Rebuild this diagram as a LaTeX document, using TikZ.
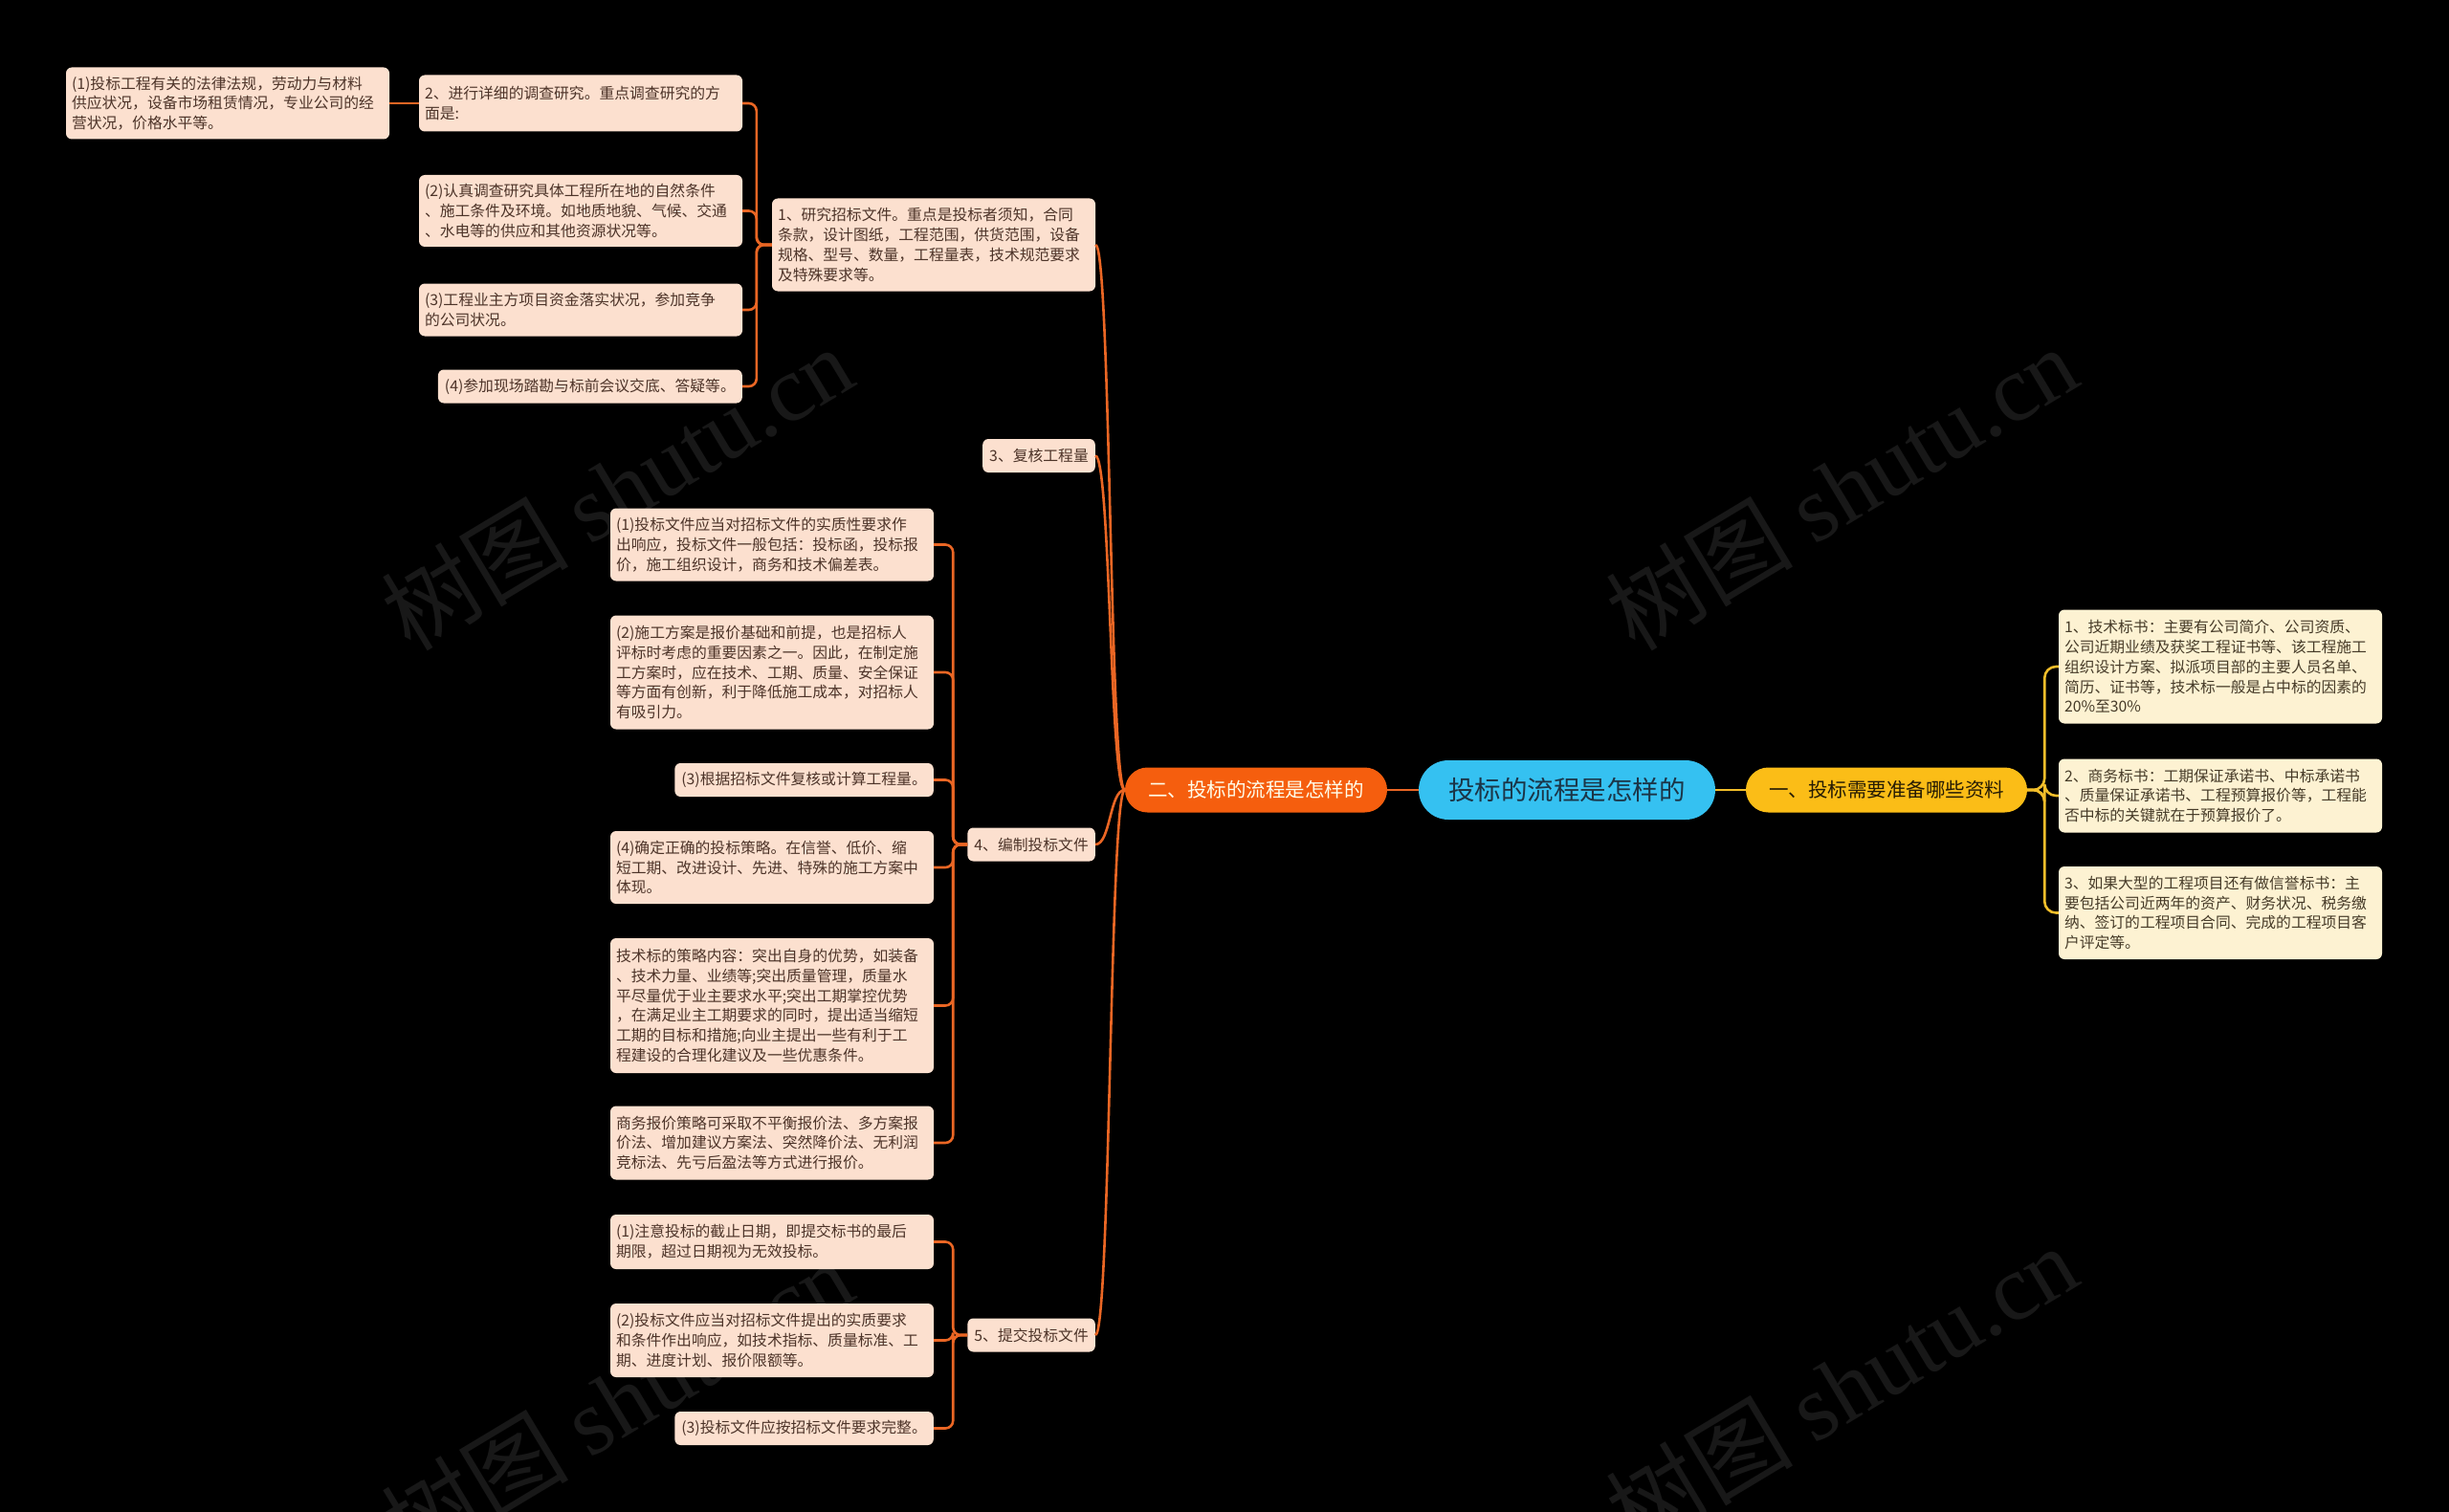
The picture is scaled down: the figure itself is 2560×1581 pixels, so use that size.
\documentclass[tikz,border=0pt]{standalone}
\usepackage{fontspec}
\setmainfont{Noto Sans CJK SC}
\newfontfamily\wmlatin{Liberation Serif}
\usetikzlibrary{calc}
\definecolor{leaffill}{HTML}{FCE0CF}
\definecolor{leaftext}{HTML}{4D3429}
\definecolor{rfill}{HTML}{FDF2D2}
\definecolor{rtext}{HTML}{463B28}
\definecolor{lineor}{HTML}{EA6624}
\definecolor{lineye}{HTML}{F2BE2A}
\definecolor{rootfill}{HTML}{35C1F1}
\definecolor{roottext}{HTML}{1B3547}
\definecolor{orfill}{HTML}{F55E0E}
\definecolor{yefill}{HTML}{FBBD17}
\definecolor{wmark}{HTML}{181818}
\tikzset{
  leaf/.style={fill=leaffill, text=leaftext, rounded corners=6pt, inner xsep=6pt, inner ysep=0pt,
    align=left, font=\fontsize{15.8}{20.8}\selectfont},
  sleaf/.style={leaf, inner xsep=7pt, minimum height=35pt, anchor=east},
  rleaf/.style={leaf, fill=rfill, text=rtext, text width=326pt},
  conn/.style={draw=lineor, line width=2.6pt},
  connY/.style={draw=lineye, line width=2.6pt},
  wm/.style={text=wmark, font=\fontsize{98}{100}\selectfont, rotate=31, inner sep=0pt}
}
\begin{document}
\begin{tikzpicture}[x=1pt,y=-1pt]
\fill[black] (0,0) rectangle (2560,1581);
\useasboundingbox (0,0) rectangle (2560,1581);

% watermarks
\node[wm] (wm1) at (645,510) {树图 {\wmlatin shutu.cn}};
\node[wm] (wm2) at (1925,510) {树图 {\wmlatin shutu.cn}};
\node[wm] (wm3) at (645,1465) {树图 {\wmlatin shutu.cn}};
\node[wm] (wm4) at (1925,1450) {树图 {\wmlatin shutu.cn}};

% root and main branches
\node[fill=rootfill, text=roottext, rounded corners=31pt, minimum width=310pt, minimum height=62pt,
  inner sep=0pt, font=\fontsize{27.5}{30}\selectfont] (root) at (1638,826) {投标的流程是怎样的};
\node[fill=orfill, text=white!92!yellow, rounded corners=23.5pt, minimum width=274pt, minimum height=47pt,
  inner sep=0pt, font=\fontsize{20.5}{24}\selectfont] (er) at (1313,826) {二、投标的流程是怎样的};
\node[fill=yefill, text=black!85!yefill, rounded corners=23.5pt, minimum width=294pt, minimum height=47pt,
  inner sep=0pt, font=\fontsize{20.5}{24}\selectfont] (yi) at (1972,826) {一、投标需要准备哪些资料};

% right leaves
\node[rleaf, minimum height=119pt] (r1) at (2321,697) {1、技术标书：主要有公司简介、公司资质、\\公司近期业绩及获奖工程证书等、该工程施工\\组织设计方案、拟派项目部的主要人员名单、\\简历、证书等，技术标一般是占中标的因素的\\20\%至30\%};
\node[rleaf, minimum height=77pt] (r2) at (2321,832) {2、商务标书：工期保证承诺书、中标承诺书\\、质量保证承诺书、工程预算报价等，工程能\\否中标的关键就在于预算报价了。};
\node[rleaf, minimum height=97pt] (r3) at (2321,954.5) {3、如果大型的工程项目还有做信誉标书：主\\要包括公司近两年的资产、财务状况、税务缴\\纳、签订的工程项目合同、完成的工程项目客\\户评定等。};

% left level 1
\node[leaf, text width=326pt, minimum height=97pt] (c1) at (976,256) {1、研究招标文件。重点是投标者须知，合同\\条款，设计图纸，工程范围，供货范围，设备\\规格、型号、数量，工程量表，技术规范要求\\及特殊要求等。};
\node[sleaf] (c3) at (1145,476.5) {3、复核工程量};
\node[sleaf] (c4) at (1145,883) {4、编制投标文件};
\node[sleaf] (c5) at (1145,1396) {5、提交投标文件};

% children of 1
\node[leaf, text width=326pt, minimum height=59pt] (k1) at (607,108) {2、进行详细的调查研究。重点调查研究的方\\面是:};
\node[leaf, text width=326pt, minimum height=75pt] (k2) at (607,220.5) {(2)认真调查研究具体工程所在地的自然条件\\、施工条件及环境。如地质地貌、气候、交通\\、水电等的供应和其他资源状况等。};
\node[leaf, text width=326pt, minimum height=55pt] (k3) at (607,324) {(3)工程业主方项目资金落实状况，参加竞争\\的公司状况。};
\node[sleaf] (k4) at (776,404) {(4)参加现场踏勘与标前会议交底、答疑等。};
\node[leaf, text width=326pt, minimum height=75pt] (p1) at (238,108) {(1)投标工程有关的法律法规，劳动力与材料\\供应状况，设备市场租赁情况，专业公司的经\\营状况，价格水平等。};

% children of 4
\node[leaf, text width=326pt, minimum height=76pt] (d1) at (807,569.5) {(1)投标文件应当对招标文件的实质性要求作\\出响应，投标文件一般包括：投标函，投标报\\价，施工组织设计，商务和技术偏差表。};
\node[leaf, text width=326pt, minimum height=119pt] (d2) at (807,703) {(2)施工方案是报价基础和前提，也是招标人\\评标时考虑的重要因素之一。因此，在制定施\\工方案时，应在技术、工期、质量、安全保证\\等方面有创新，利于降低施工成本，对招标人\\有吸引力。};
\node[sleaf] (d3) at (976,815.5) {(3)根据招标文件复核或计算工程量。};
\node[leaf, text width=326pt, minimum height=76pt] (d4) at (807,907) {(4)确定正确的投标策略。在信誉、低价、缩\\短工期、改进设计、先进、特殊的施工方案中\\体现。};
\node[leaf, text width=326pt, minimum height=141pt] (d5) at (807,1051.5) {技术标的策略内容：突出自身的优势，如装备\\、技术力量、业绩等;突出质量管理，质量水\\平尽量优于业主要求水平;突出工期掌控优势\\，在满足业主工期要求的同时，提出适当缩短\\工期的目标和措施;向业主提出一些有利于工\\程建设的合理化建议及一些优惠条件。};
\node[leaf, text width=326pt, minimum height=77pt] (d6) at (807,1195) {商务报价策略可采取不平衡报价法、多方案报\\价法、增加建议方案法、突然降价法、无利润\\竞标法、先亏后盈法等方式进行报价。};

% children of 5
\node[leaf, text width=326pt, minimum height=57pt] (e1) at (807,1298.5) {(1)注意投标的截止日期，即提交标书的最后\\期限，超过日期视为无效投标。};
\node[leaf, text width=326pt, minimum height=77pt] (e2) at (807,1401.5) {(2)投标文件应当对招标文件提出的实质要求\\和条件作出响应，如技术指标、质量标准、工\\期、进度计划、报价限额等。};
\node[sleaf] (e3) at (976,1493.5) {(3)投标文件应按招标文件要求完整。};

% connectors: root
\draw[conn] (root.west) -- (er.east);
\draw[connY] (root.east) -- (yi.west);

% right side
\foreach \r in {r1,r2,r3}{
  \draw[connY, rounded corners=12pt] (yi.east) -- ++(18,0) |- (\r.west);
}

% left curves
\foreach \c in {c1,c3,c4,c5}{
  \draw[conn] (er.west) .. controls +(-16,0) and +(16,0) .. (\c.east);
}

% elbows
\foreach \k in {k1,k2,k3,k4}{
  \draw[conn, rounded corners=8pt] (c1.west) -- ++(-16,0) |- (\k.east);
}
\draw[conn] (k1.west) -- (p1.east);
\foreach \d in {d1,d2,d3,d4,d5,d6}{
  \draw[conn, rounded corners=8pt] (c4.west) -- ++(-15,0) |- (\d.east);
}
\foreach \e in {e1,e2,e3}{
  \draw[conn, rounded corners=8pt] (c5.west) -- ++(-15,0) |- (\e.east);
}
\end{tikzpicture}
\end{document}
